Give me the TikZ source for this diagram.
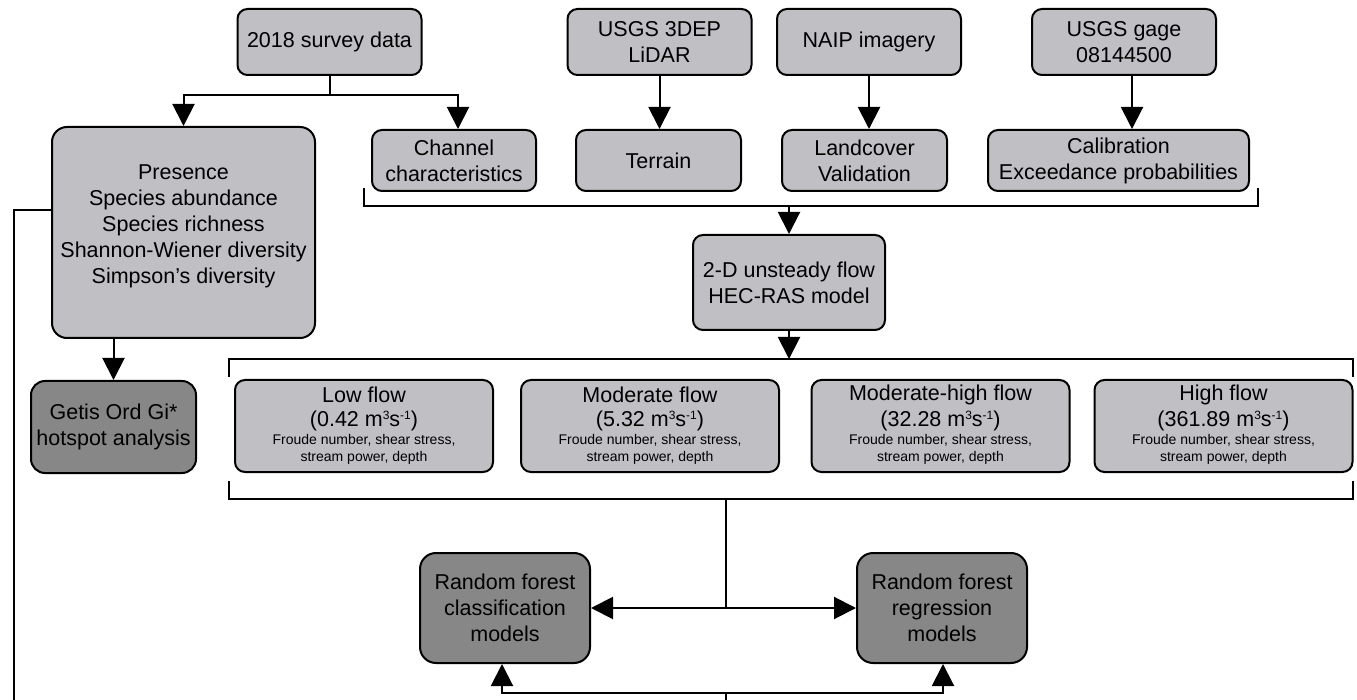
\documentclass[tikz,border=0pt]{standalone}
\usepackage{fontspec}
\setmainfont{Liberation Sans}
\usetikzlibrary{arrows.meta}
\definecolor{lightbox}{RGB}{192,191,196}
\definecolor{darkbox}{RGB}{135,135,135}
\newcommand\supx[1]{\raisebox{7pt}{\fontsize{12}{12}\selectfont #1}}
\newcommand\flowbx[4]{%
  \node[box, minimum width=258pt, minimum height=92pt] (#1) at (#2,426) {};
  \node[txt] at (#2,395) {#3};
  \node[txt] at (#2,421) {#4};
  \node[smalltxt] at (#2,449.5) {Froude number, shear stress,\\stream power, depth};
}
\begin{document}
\begin{tikzpicture}[x=1pt,y=-1pt,
  box/.style={draw=black, line width=2pt, rounded corners=10pt, fill=lightbox, inner sep=0pt, align=center, font=\fontsize{21.5}{26}\selectfont},
  dbox/.style={box, fill=darkbox},
  conn/.style={line width=2pt},
  arr/.style={conn, -{Triangle[width=22pt,length=22pt]}},
  txt/.style={inner sep=0pt, align=center, font=\fontsize{21.5}{26}\selectfont},
  smalltxt/.style={inner sep=0pt, align=center, font=\fontsize{14}{17}\selectfont},
]
\useasboundingbox (0,0) rectangle (1357,700);

% top row
\node[box, minimum width=184pt, minimum height=66pt] (survey) at (329.5,42) {2018 survey data};
\node[box, minimum width=184pt, minimum height=66pt] (lidar) at (659.5,42) {USGS 3DEP\\LiDAR};
\node[box, minimum width=184pt, minimum height=66pt] (naip) at (869,42) {NAIP imagery};
\node[box, minimum width=184pt, minimum height=66pt] (gage) at (1124,42) {USGS gage\\08144500};

% second row
\node[box, minimum width=164pt, minimum height=61pt] (chan) at (454,160.5) {Channel\\characteristics};
\node[box, minimum width=165pt, minimum height=61pt] (terrain) at (658.5,160.5) {Terrain};
\node[box, minimum width=165pt, minimum height=61pt] (land) at (864.5,160.5) {Landcover\\Validation};
\node[box, minimum width=261pt, minimum height=61pt] (calib) at (1118.5,160.5) {Calibration\\Exceedance probabilities};

% big box
\node[box, rounded corners=15pt, minimum width=263pt, minimum height=211pt] (big) at (183.5,232.5) {};
\node[txt] at (183.5,226) {Presence\\Species abundance\\Species richness\\Shannon-Wiener diversity\\Simpson’s diversity};

% HEC-RAS
\node[box, minimum width=192pt, minimum height=95pt] (hec) at (789,282.5) {2-D unsteady flow\\HEC-RAS model};

% Getis
\node[dbox, rounded corners=14pt, minimum width=165pt, minimum height=92pt] (getis) at (113.5,427) {Getis Ord Gi*\\hotspot analysis};

% flow boxes
\flowbx{low}{364}{Low flow}{(0.42 m\supx{3}s\supx{-1})}
\flowbx{mod}{650}{Moderate flow}{(5.32 m\supx{3}s\supx{-1})}
\flowbx{modhigh}{940.5}{Moderate-high flow}{(32.28 m\supx{3}s\supx{-1})}
\flowbx{high}{1223.5}{High flow}{(361.89 m\supx{3}s\supx{-1})}

% random forest
\node[dbox, rounded corners=16pt, minimum width=170pt, minimum height=110pt] (rfc) at (505,608) {Random forest\\classification\\models};
\node[dbox, rounded corners=16pt, minimum width=170pt, minimum height=110pt] (rfr) at (942,608) {Random forest\\regression\\models};

% connectors
\coordinate (j1) at (329.5,95);
\draw[conn] (survey.south) -- (j1);
\draw[arr] (j1) -| (big.north);
\draw[arr] (j1) -| ([xshift=4pt]chan.north);
\draw[arr] (lidar.south) -- (lidar.south |- terrain.north);
\draw[arr] (naip.south) -- (naip.south |- land.north);
\draw[arr] ([xshift=8pt]gage.south) -- ([xshift=8pt]gage.south |- calib.north);

% bracket 1
\draw[conn] (364,188) -- (364,206) -- (1258,206) -- (1258,188);
\coordinate (j2) at (789,206);
\draw[arr] (j2) -- (hec.north);

% bracket 2
\coordinate (j3) at (789,359);
\draw[arr] (hec.south) -- (j3);
\draw[conn] (229,377) -- (229,359) -- (1353,359) -- (1353,377);
\draw[conn] (229,481) -- (229,499) -- (1353,499) -- (1353,481);

% to random forest
\coordinate (j4) at (726,499);
\coordinate (j5) at (726,608);
\draw[conn] (j4) -- (j5);
\draw[arr] (j5) -- (rfc.east);
\draw[arr] (j5) -- (rfr.west);

% bottom
\coordinate (j6) at (726,693);
\coordinate (j7) at (726,701);
\draw[conn] (j7) -- (j6);
\draw[arr] (j6) -| ([xshift=-3pt]rfc.south);
\draw[arr] (j6) -| ([xshift=1pt]rfr.south);

% left line
\coordinate (k1) at (14,210);
\coordinate (k2) at (14,701);
\draw[conn] (big.west |- k1) -- (k1) -- (k2);

% big -> getis
\draw[arr] (getis.north |- big.south) -- (getis.north);
\end{tikzpicture}
\end{document}
